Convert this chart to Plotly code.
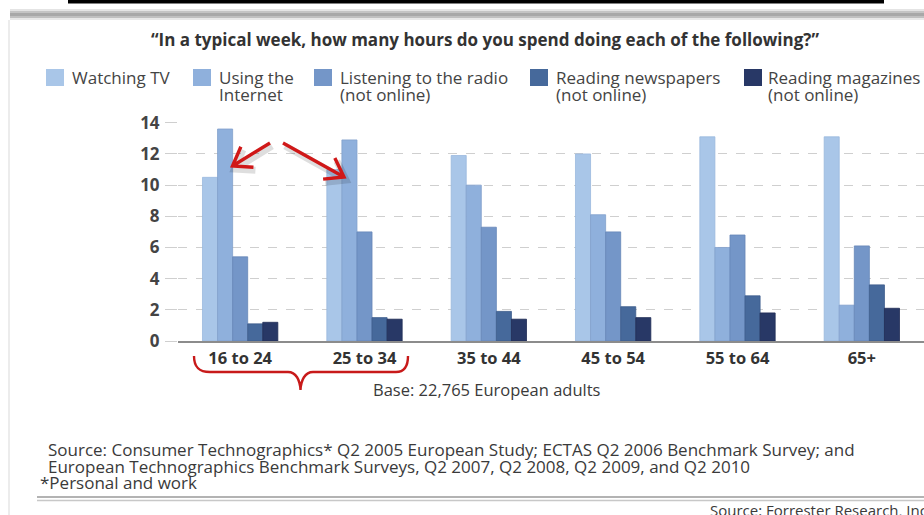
import math
import plotly.graph_objects as go

# Weekly hours by age group, European adults
age_groups = ["16 to 24", "25 to 34", "35 to 44", "45 to 54", "55 to 64", "65+"]
series_names = [
    ["Watching TV"],
    ["Using the", "Internet"],
    ["Listening to the radio", "(not online)"],
    ["Reading newspapers", "(not online)"],
    ["Reading magazines", "(not online)"],
]
tv = [10.5, 11.0, 11.9, 12.0, 13.1, 13.1]
internet = [13.6, 12.9, 10.0, 8.1, 6.0, 2.3]
radio = [5.4, 7.0, 7.3, 7.0, 6.8, 6.1]
newspapers = [1.1, 1.5, 1.9, 2.2, 2.9, 3.6]
magazines = [1.2, 1.4, 1.4, 1.5, 1.8, 2.1]
y_ticks = [0, 2, 4, 6, 8, 10, 12, 14]

series_values = [tv, internet, radio, newspapers, magazines]
colors = ["#a9c6e8", "#8fb0dc", "#7496c8", "#46699b", "#283866"]
edge_colors = ["#9bb9de", "#819fcc", "#6687b8", "#3c5c8b", "#1f2c55"]

W, H = 924, 515
ML, MR, MT, MB = 178, 0, 122, 174
PW, PH = W - ML - MR, H - MT - MB


def px(x):
    return (x - ML) / PW


def py(y):
    return (H - MB - y) / PH


def pt(x, y):
    return f"{px(x):.5f},{py(y):.5f}"


fig = go.Figure()
for name, vals, c, ec in zip(series_names, series_values, colors, edge_colors):
    fig.add_trace(go.Bar(
        x=age_groups, y=vals, name=" ".join(name),
        marker=dict(color=c, line=dict(color=ec, width=0.8)),
        showlegend=False,
    ))

font_main = "Open Sans, Lato, sans-serif"
txt = "#3a3a3a"
FS = 17

shapes = []
annotations = []

# top black bar and grey rule with shadow
shapes.append(dict(type="rect", xref="paper", yref="paper", x0=px(68), x1=px(884),
                   y0=py(0), y1=py(3.5), fillcolor="black", line_width=0, layer="above"))
for y0, y1, col in [(9, 11, "#e4e4e4"), (11, 13, "#c4c4c4"), (13, 16, "#a8a8a8"),
                    (16, 18, "#c0c0c0"), (18, 20, "#e8e8e8")]:
    shapes.append(dict(type="rect", xref="paper", yref="paper", x0=px(10), x1=px(924),
                       y0=py(y0), y1=py(y1), fillcolor=col, line_width=0))
# left frame line
shapes.append(dict(type="line", xref="paper", yref="paper", x0=px(9), x1=px(9),
                   y0=py(20), y1=py(515), line=dict(color="#e6e6e6", width=1.5)))
# bottom double rule
for yy, col in [(497, "#9a9a9a"), (500.5, "#c8c8c8")]:
    shapes.append(dict(type="line", xref="paper", yref="paper", x0=px(37), x1=px(924),
                       y0=py(yy), y1=py(yy), line=dict(color=col, width=1.6)))

# title
annotations.append(dict(
    text="\u201cIn a typical week, how many hours do you spend doing each of the following?\u201d",
    xref="paper", yref="paper", x=px(485), y=py(40), showarrow=False,
    font=dict(family=font_main, size=FS, color="#333333", weight="bold"),
    xanchor="center", yanchor="middle"))

# legend swatches and labels
swatch_x = [46, 193, 314, 530, 744]
label_x = [70, 217, 338, 554, 766]
line_y = [77.5, 95]
for name, c, sx, lx in zip(series_names, colors, swatch_x, label_x):
    shapes.append(dict(type="rect", xref="paper", yref="paper", x0=px(sx), x1=px(sx + 18),
                       y0=py(69), y1=py(86), fillcolor=c, line_width=0))
    for line, ly in zip(name, line_y):
        annotations.append(dict(
            text=line, xref="paper", yref="paper", x=px(lx), y=py(ly), showarrow=False,
            xanchor="left", yanchor="middle", align="left",
            font=dict(family=font_main, size=FS, color="#444444")))


# red arrows with open V heads and soft shadow
def arrow_path(tail, tip, length=21, angle=35):
    bx, by = tail[0] - tip[0], tail[1] - tip[1]
    n = math.hypot(bx, by)
    bx, by = bx / n, by / n
    barbs = []
    for s in (1, -1):
        a = math.radians(angle * s)
        rx = bx * math.cos(a) - by * math.sin(a)
        ry = bx * math.sin(a) + by * math.cos(a)
        barbs.append((tip[0] + length * rx, tip[1] + length * ry))
    return (f"M {pt(*tail)} L {pt(*tip)} "
            f"M {pt(*barbs[0])} L {pt(*tip)} L {pt(*barbs[1])}")


arrows = [((270, 143), (232.5, 166)), ((283, 143), (344, 177))]
for tail, tip in arrows:
    sh_tail = (tail[0] + 2, tail[1] + 3)
    sh_tip = (tip[0] + 2, tip[1] + 3)
    shapes.append(dict(type="path", xref="paper", yref="paper",
                       path=arrow_path(sh_tail, sh_tip),
                       line=dict(color="rgba(0,0,0,0.13)", width=7)))
    shapes.append(dict(type="path", xref="paper", yref="paper",
                       path=arrow_path(tail, tip),
                       line=dict(color="#d01818", width=3.4)))

# red brace under the two youngest groups
brace = (f"M {pt(194, 356)} C {pt(194, 366)} {pt(198, 372)} {pt(210, 372)} "
         f"L {pt(288, 372)} C {pt(296, 372)} {pt(300, 380)} {pt(300.5, 390)} "
         f"C {pt(301, 380)} {pt(305, 372)} {pt(313, 372)} "
         f"L {pt(396, 372)} C {pt(404, 372)} {pt(408, 366)} {pt(408, 356)}")
shapes.append(dict(type="path", xref="paper", yref="paper", path=brace,
                   line=dict(color="#c81a1a", width=2.4)))

# base note and sources
annotations.append(dict(
    text="Base: 22,765 European adults", xref="paper", yref="paper",
    x=px(371), y=py(389), showarrow=False, xanchor="left", yanchor="middle",
    font=dict(family=font_main, size=16.5, color=txt)))
source_lines = [
    (46, 449, FS, "Source: Consumer Technographics* Q2 2005 European Study; ECTAS Q2 2006 Benchmark Survey; and"),
    (46, 466, FS, "European Technographics Benchmark Surveys, Q2 2007, Q2 2008, Q2 2009, and Q2 2010"),
    (38, 482, FS, "*Personal and work"),
    (708, 510, 15, "Source: Forrester Research, Inc."),
]
for x0, y0, size, t in source_lines:
    annotations.append(dict(
        text=t, xref="paper", yref="paper", x=px(x0), y=py(y0), showarrow=False,
        xanchor="left", yanchor="middle",
        font=dict(family=font_main, size=size, color=txt)))

fig.update_layout(
    width=W, height=H,
    margin=dict(l=ML, r=MR, t=MT, b=MB, autoexpand=False),
    paper_bgcolor="white", plot_bgcolor="white",
    barmode="group", bargap=0.394, bargroupgap=0,
    shapes=shapes, annotations=annotations,
    xaxis=dict(
        showgrid=False, showline=True, linecolor="#8c8c8c", linewidth=2.2,
        tickfont=dict(family=font_main, size=16.5, color="#333333", weight="bold"),
        ticks="", ticklabelstandoff=1,
    ),
    yaxis=dict(
        range=[0, 14.05], tickvals=y_ticks, showgrid=True,
        gridcolor="#cfcfcf", griddash="dash", gridwidth=1.2,
        zeroline=False, showline=False,
        ticks="outside", ticklen=12, tickcolor="#cfcfcf",
        tickfont=dict(family=font_main, size=17, color="#444444", weight="bold"),
        ticklabelstandoff=2,
    ),
    font=dict(family=font_main),
)

fig.write_html("out.html")
